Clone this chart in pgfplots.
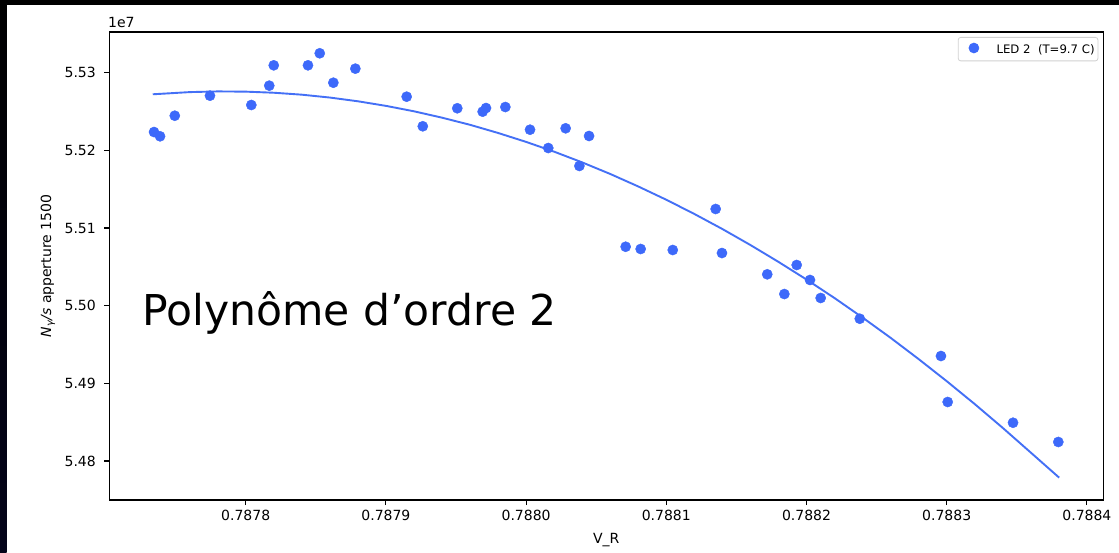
\documentclass[border=0pt]{standalone}
\usepackage{fontspec}
\setmainfont{DejaVu Sans}
\usepackage{pgfplots}
\pgfplotsset{compat=1.18}
\usepackage{pgfplotstable}

\definecolor{dotblue}{RGB}{61,105,250}
\definecolor{fitblue}{RGB}{68,112,246}
\definecolor{stripnavy}{RGB}{4,4,26}

% Measured photon rate (in units of 1e7) against V_R
\pgfplotstableread{
vr nrate
0.7877346 5.52236
0.7877389 5.52181
0.7877494 5.52446
0.7877745 5.52704
0.7878040 5.52584
0.7878168 5.52833
0.7878200 5.53095
0.7878444 5.53095
0.7878528 5.53250
0.7878625 5.52871
0.7878782 5.53052
0.7879148 5.52691
0.7879263 5.52310
0.7879509 5.52542
0.7879690 5.52498
0.7879714 5.52545
0.7879852 5.52558
0.7880028 5.52266
0.7880158 5.52030
0.7880282 5.52284
0.7880380 5.51799
0.7880449 5.52185
0.7880710 5.50759
0.7880817 5.50730
0.7881046 5.50717
0.7881352 5.51245
0.7881397 5.50678
0.7881720 5.50404
0.7881842 5.50150
0.7881930 5.50524
0.7882025 5.50331
0.7882101 5.50099
0.7882380 5.49832
0.7882959 5.49352
0.7883007 5.48760
0.7883473 5.48493
0.7883796 5.48245
}\measured

% Second-order polynomial fit, sampled along V_R
\pgfplotstableread{
vr nrate
0.7877337 5.52722
0.7877600 5.52750
0.7877800 5.52759
0.7878000 5.52756
0.7878200 5.52742
0.7878400 5.52717
0.7878600 5.52680
0.7878800 5.52632
0.7879000 5.52573
0.7879200 5.52503
0.7879400 5.52421
0.7879600 5.52329
0.7879800 5.52224
0.7880000 5.52109
0.7880200 5.51983
0.7880400 5.51845
0.7880600 5.51696
0.7880800 5.51535
0.7881000 5.51364
0.7881200 5.51181
0.7881400 5.50987
0.7881600 5.50781
0.7881800 5.50564
0.7882000 5.50337
0.7882200 5.50098
0.7882400 5.49847
0.7882600 5.49586
0.7882800 5.49312
0.7883000 5.49028
0.7883200 5.48733
0.7883400 5.48426
0.7883600 5.48108
0.7883802 5.47786
}\fitcurve

\begin{document}
\begin{tikzpicture}[x=1pt,y=1pt]
% page background and dark frame edges
\fill[white] (0,0) rectangle (1119,552);
\fill[black] (0,547.3) rectangle (1119,552);
\shade[top color=black, bottom color=stripnavy] (0,0) rectangle (6.7,552);

\begin{axis}[
  scale only axis,
  width=994pt, height=468pt,
  at={(109.3pt,52pt)}, anchor=south west,
  xmin=0.7877027, xmax=0.7884117,
  ymin=5.47498, ymax=5.53524,
  axis line style={black, line width=1.1pt},
  tick align=outside, tick pos=left,
  major tick length=5pt,
  tick style={black, line width=1.1pt},
  xtick={0.7878,0.7879,0.7880,0.7881,0.7882,0.7883,0.7884},
  xticklabels={0.7878,0.7879,0.7880,0.7881,0.7882,0.7883,0.7884},
  ytick={5.48,5.49,5.50,5.51,5.52,5.53},
  yticklabels={5.48,5.49,5.50,5.51,5.52,5.53},
  ticklabel style={font=\fontsize{14}{16}\selectfont, inner sep=0pt},
  xticklabel style={anchor=north, yshift=-4.5pt},
  yticklabel style={anchor=east, xshift=-8.3pt},
  xlabel={V\_R},
  xlabel style={at={(axis description cs:0.5,-0.0919)}, anchor=base,
                inner sep=0pt, font=\fontsize{14}{16}\selectfont},
  ylabel={{\itshape N\textsubscript{γ}/s} apperture 1500},
  ylabel style={at={(axis description cs:-0.0617,0.5)}, anchor=center,
                inner sep=0pt, font=\fontsize{14}{16}\selectfont},
  legend style={at={(1,1)}, anchor=north east, xshift=-5pt, yshift=-5pt,
                draw=black!18, line width=0.8pt, rounded corners=2.5pt,
                fill=white,
                font=\fontsize{11.7}{13}\selectfont,
                inner xsep=3.3pt, inner ysep=5.5pt,
                nodes={inner sep=0pt},
                /tikz/every odd column/.append style={column sep=4.3pt}},
  legend image code/.code={%
    \path[draw=none, fill=none] (0pt,-2pt) rectangle (30.7pt,2pt);
    \draw[#1] plot coordinates {(12.4pt,0.4ex)};},
  legend cell align=left,
]
\addplot[dotblue, only marks, mark=*, mark size=5.1pt,
         mark options={draw=dotblue, fill=dotblue, line width=0.4pt}]
  table[x=vr, y=nrate] {\measured};
\addlegendentry{LED 2\ \ (T=9.7 C)\hspace{3.3pt}}

\addplot[fitblue, line width=1.9pt, forget plot]
  table[x=vr, y=nrate] {\fitcurve};
\end{axis}

% axis offset note and annotation
\node[anchor=base west, inner sep=0pt, font=\fontsize{14}{16}\selectfont]
  at (108,524.4) {1e7};
\node[anchor=base west, inner sep=0pt, font=\fontsize{42.5}{50}\selectfont]
  at (142.2,226) {Polynôme d’ordre 2};

\pgfresetboundingbox
\path (0,0) rectangle (1119,552);
\end{tikzpicture}
\end{document}
